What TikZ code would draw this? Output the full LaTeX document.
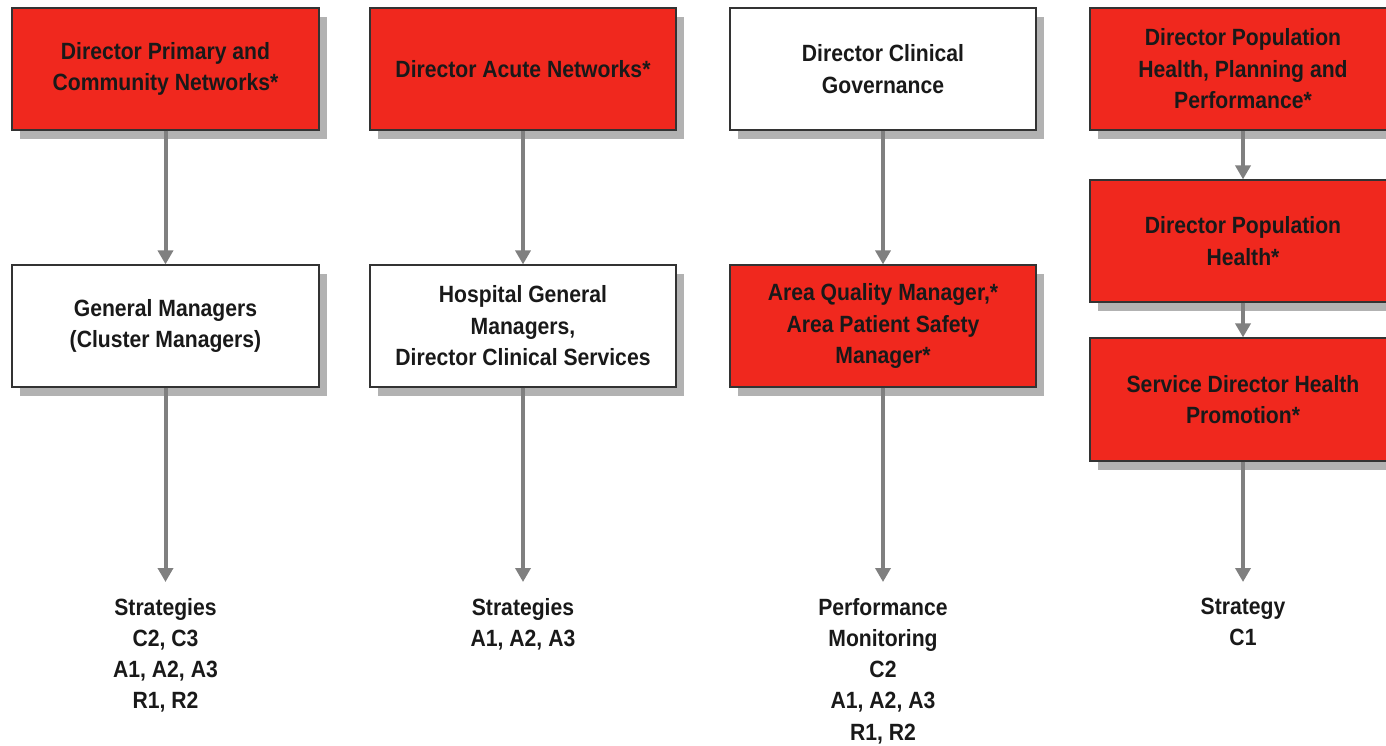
\documentclass[tikz,border=0pt]{standalone}
\usepackage{fontspec}
\setmainfont[FakeStretch=0.9]{Liberation Sans}
\usetikzlibrary{arrows.meta,shadows}
\definecolor{boxred}{RGB}{240,40,30}
\definecolor{arrowgray}{RGB}{128,128,128}
\definecolor{shadowgray}{RGB}{178,178,178}
\tikzset{
  box/.style={draw=black!80, line width=1.2pt, minimum width=306pt, minimum height=122pt,
    align=center, inner sep=0pt, font=\fontsize{23.5}{31.5}\selectfont\bfseries, text=black!90,
    drop shadow={shadow xshift=8pt, shadow yshift=-9pt, fill=shadowgray, opacity=1}},
  redbox/.style={box, fill=boxred},
  whitebox/.style={box, fill=white},
  strat/.style={anchor=north, align=center, inner xsep=0pt, inner ysep=16pt,
    font=\fontsize{23.5}{31.2}\selectfont\bfseries, text=black!90},
  conn/.style={draw=arrowgray, line width=4pt, -{Triangle[width=15pt,length=14pt]}}
}
\begin{document}
\begin{tikzpicture}[x=1pt,y=-1pt]
\useasboundingbox (0,0) rectangle (1386,745);
\clip (0,0) rectangle (1386,745);
% column 1
\node[redbox, minimum width=307pt] (c1a) at (165.5,69) {Director Primary and\\Community Networks*};
\node[whitebox, minimum width=307pt] (c1b) at (165.5,326) {General Managers\\(Cluster Managers)};
\node[strat] (c1s) at (165.5,582) {Strategies\\C2, C3\\A1, A2, A3\\R1, R2};
% column 2
\node[redbox] (c2a) at (523,69) {Director Acute Networks*};
\node[whitebox] (c2b) at (523,326) {Hospital General\\Managers,\\Director Clinical Services};
\node[strat] (c2s) at (523,582) {Strategies\\A1, A2, A3};
% column 3
\node[whitebox] (c3a) at (883,69) {Director Clinical\\Governance};
\node[redbox] (c3b) at (883,326) {Area Quality Manager,*\\Area Patient Safety\\Manager*};
\node[strat] (c3s) at (883,582) {Performance\\Monitoring\\C2\\A1, A2, A3\\R1, R2};
% column 4
\node[redbox] (c4a) at (1243,69) {Director Population\\Health, Planning and\\Performance*};
\node[redbox] (c4b) at (1243,241) {Director Population\\Health*};
\node[redbox, minimum height=123pt] (c4c) at (1243,399.5) {Service Director Health\\Promotion*};
\node[strat] (c4s) at (1243,582) {Strategy\\C1};
% connectors
\draw[conn] (c1a) -- (c1b);
\draw[conn] (c1b) -- (c1s);
\draw[conn] (c2a) -- (c2b);
\draw[conn] (c2b) -- (c2s);
\draw[conn] (c3a) -- (c3b);
\draw[conn] (c3b) -- (c3s);
\draw[conn] (c4a) -- (c4b);
\draw[conn] (c4b) -- (c4c);
\draw[conn] (c4c) -- (c4s);
\end{tikzpicture}
\end{document}
